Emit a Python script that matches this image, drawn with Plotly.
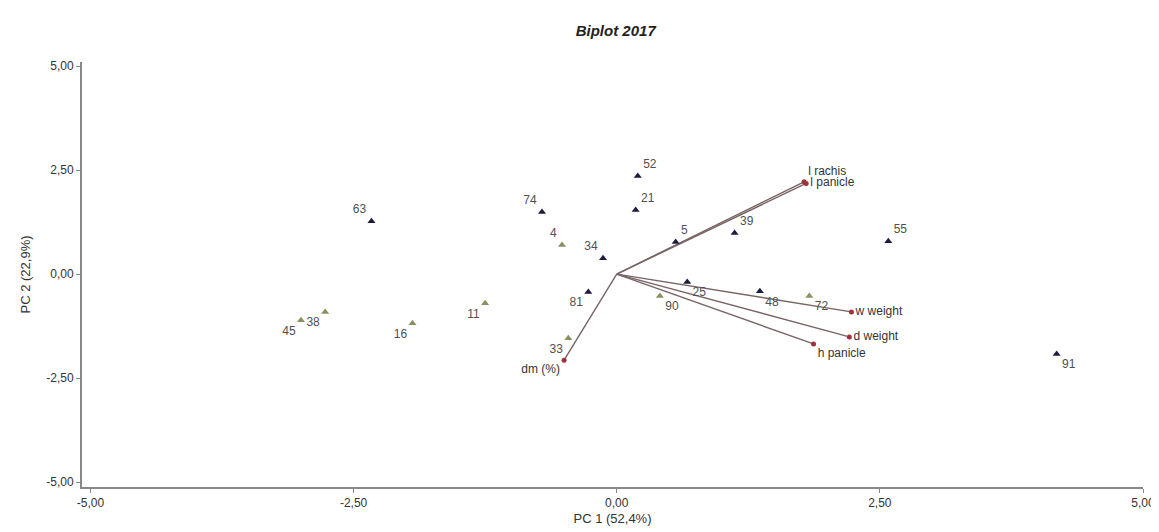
import plotly.graph_objects as go

# Observations (PC scores)
obs_names = ["52", "21", "74", "63", "4", "34", "5", "39", "55", "81",
             "11", "16", "38", "45", "33", "90", "25", "48", "72", "91"]
obs_pc1 = [0.20, 0.18, -0.71, -2.33, -0.52, -0.13, 0.56, 1.12, 2.58, -0.27,
           -1.25, -1.94, -2.77, -3.00, -0.46, 0.41, 0.67, 1.36, 1.83, 4.18]
obs_pc2 = [2.36, 1.54, 1.49, 1.27, 0.70, 0.38, 0.77, 0.99, 0.79, -0.43,
           -0.70, -1.18, -0.91, -1.11, -1.54, -0.53, -0.19, -0.41, -0.53, -1.92]
obs_group = ["A", "A", "A", "A", "B", "A", "A", "A", "A", "A",
             "B", "B", "B", "B", "B", "B", "A", "A", "B", "A"]

# Variables (loadings)
var_names = ["l rachis", "l panicle", "w weight", "d weight", "h panicle", "dm (%)"]
var_pc1 = [1.78, 1.80, 2.23, 2.21, 1.87, -0.50]
var_pc2 = [2.22, 2.18, -0.91, -1.51, -1.68, -2.07]

x_ticks = [-5, -2.5, 0, 2.5, 5]
y_ticks = [-5, -2.5, 0, 2.5, 5]
x_ticktext = ["-5,00", "-2,50", "0,00", "2,50", "5,00"]
y_ticktext = ["-5,00", "-2,50", "0,00", "2,50", "5,00"]

obs_label_pos = {
    "52": "top right", "21": "top right", "5": "top right", "39": "top right",
    "55": "top right", "74": "top left", "63": "top left", "4": "top left",
    "34": "top left", "81": "bottom left", "11": "bottom left", "16": "bottom left",
    "38": "bottom left", "45": "bottom left", "33": "bottom left",
    "90": "bottom right", "25": "bottom right", "48": "bottom right",
    "72": "bottom right", "91": "bottom right",
}
var_label_pos = {
    "l rachis": "top right", "l panicle": "middle right", "w weight": "middle right",
    "d weight": "middle right", "h panicle": "bottom right", "dm (%)": "bottom left",
}

group_color = {"A": "#1c1c40", "B": "#8c9060"}
FONT = "Arial, Liberation Sans, sans-serif"

fig = go.Figure()

# Vector lines
for n, vx, vy in zip(var_names, var_pc1, var_pc2):
    fig.add_trace(go.Scatter(x=[0, vx], y=[0, vy], mode="lines",
                             line=dict(color="#786464", width=1.4),
                             hoverinfo="skip", showlegend=False))

# Observations
for g in ["A", "B"]:
    idx = [i for i, gg in enumerate(obs_group) if gg == g]
    fig.add_trace(go.Scatter(
        x=[obs_pc1[i] for i in idx], y=[obs_pc2[i] for i in idx],
        mode="markers+text",
        text=[obs_names[i] for i in idx],
        textposition=[obs_label_pos[obs_names[i]] for i in idx],
        textfont=dict(family=FONT, size=12, color="#505050"),
        marker=dict(symbol="triangle-up", size=7, color=group_color[g]),
        showlegend=False))

# Variable endpoints
fig.add_trace(go.Scatter(
    x=var_pc1, y=var_pc2, mode="markers+text", text=var_names,
    textposition=[var_label_pos[n] for n in var_names],
    textfont=dict(family=FONT, size=12, color="#333333"),
    marker=dict(symbol="circle", size=5, color="#a0303a"),
    showlegend=False))

fig.update_layout(
    width=1151, height=524,
    margin=dict(l=74, r=16, t=54, b=45, autoexpand=False),
    paper_bgcolor="white", plot_bgcolor="white",
    title=dict(text="<b><i>Biplot 2017</i></b>", x=0.528, xanchor="center",
               y=0.956, yanchor="middle",
               font=dict(family=FONT, size=15, color="#222222")),
    font=dict(family=FONT, size=12, color="#333333"),
)
fig.update_xaxes(range=[-5.08, 5.0], tickvals=x_ticks, ticktext=x_ticktext,
                 showgrid=False, zeroline=False, showline=True, linecolor="#888888", linewidth=2,
                 ticks="outside", ticklen=4, tickcolor="#888888", automargin=False,
                 title=dict(text="PC 1 (52,4%)", standoff=4, font=dict(size=13)))
fig.update_yaxes(range=[-5.12, 5.1], tickvals=y_ticks, ticktext=y_ticktext,
                 showgrid=False, zeroline=False, showline=True, linecolor="#888888", linewidth=2,
                 ticks="outside", ticklen=4, tickcolor="#888888", automargin=False,
                 title=dict(text="PC 2 (22,9%)", standoff=13, font=dict(size=13)))

fig.write_html("out.html")
